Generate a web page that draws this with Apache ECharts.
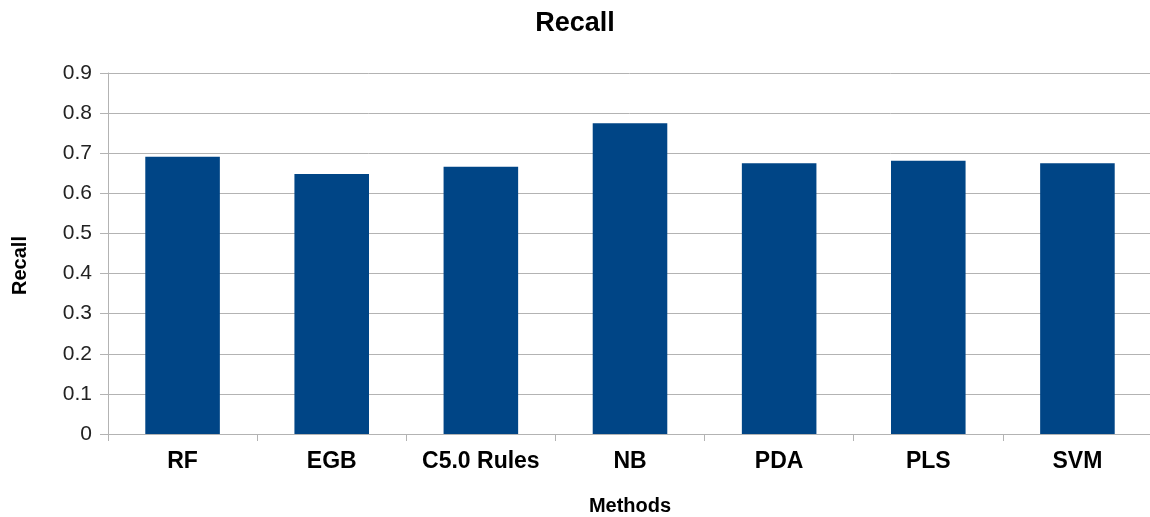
<!DOCTYPE html>
<html>
<head>
<meta charset="utf-8">
<script src="https://cdn.jsdelivr.net/npm/echarts@6/dist/echarts.min.js"></script>
<style>
  html, body { margin: 0; padding: 0; background: #fff; }
  #chart-container { width: 1150px; height: 517px; }
</style>
</head>
<body>
<div id="chart-container"></div>
<script>
var methods = ['RF', 'EGB', 'C5.0 Rules', 'NB', 'PDA', 'PLS', 'SVM'];
var recall = [0.691, 0.648, 0.666, 0.775, 0.675, 0.681, 0.675];
var yTicks = [0, 0.1, 0.2, 0.3, 0.4, 0.5, 0.6, 0.7, 0.8, 0.9];

var dom = document.getElementById('chart-container');
var myChart = echarts.init(dom, null, { renderer: 'canvas' });
var font = 'Liberation Sans, Arial, sans-serif';

var option = {
  animation: false,
  title: {
    text: 'Recall',
    left: 'center',
    top: 5,
    textStyle: { fontFamily: font, fontSize: 27, fontWeight: 'bold', color: '#000' }
  },
  grid: { left: 108, right: -2, top: 73, bottom: 83, outerBoundsMode: 'none' },
  xAxis: {
    type: 'category',
    data: methods,
    name: 'Methods',
    nameLocation: 'middle',
    nameGap: 62,
    nameTextStyle: { fontFamily: font, fontSize: 20, fontWeight: 'bold', color: '#000' },
    axisLine: { lineStyle: { color: '#b3b3b3', width: 1 } },
    axisTick: { show: true, interval: 0, length: 7, lineStyle: { color: '#b3b3b3' } },
    axisLabel: {
      interval: 0, hideOverlap: false,
      fontFamily: font, fontSize: 23, fontWeight: 'bold', color: '#000', margin: 16
    }
  },
  yAxis: {
    type: 'value',
    min: yTicks[0],
    max: yTicks[yTicks.length - 1],
    interval: 0.1,
    name: 'Recall',
    nameLocation: 'middle',
    nameGap: 78,
    nameRotate: 90,
    nameTextStyle: {
      fontFamily: font, fontSize: 20, fontWeight: 'bold', color: '#000',
      padding: [0, 24, 0, 0]
    },
    axisLine: { show: true, lineStyle: { color: '#b3b3b3', width: 1 } },
    axisTick: { show: true, length: 8, lineStyle: { color: '#b3b3b3' } },
    axisLabel: {
      fontFamily: font, fontSize: 21, color: '#222', margin: 16,
      formatter: function (v) { return String(Math.round(v * 10) / 10); }
    },
    splitLine: { lineStyle: { color: '#b3b3b3', width: 1 } }
  },
  series: [
    {
      type: 'bar',
      data: recall,
      barWidth: '50%',
      itemStyle: { color: '#004586' }
    }
  ]
};

myChart.setOption(option);
window.addEventListener('resize', myChart.resize);
</script>
</body>
</html>
